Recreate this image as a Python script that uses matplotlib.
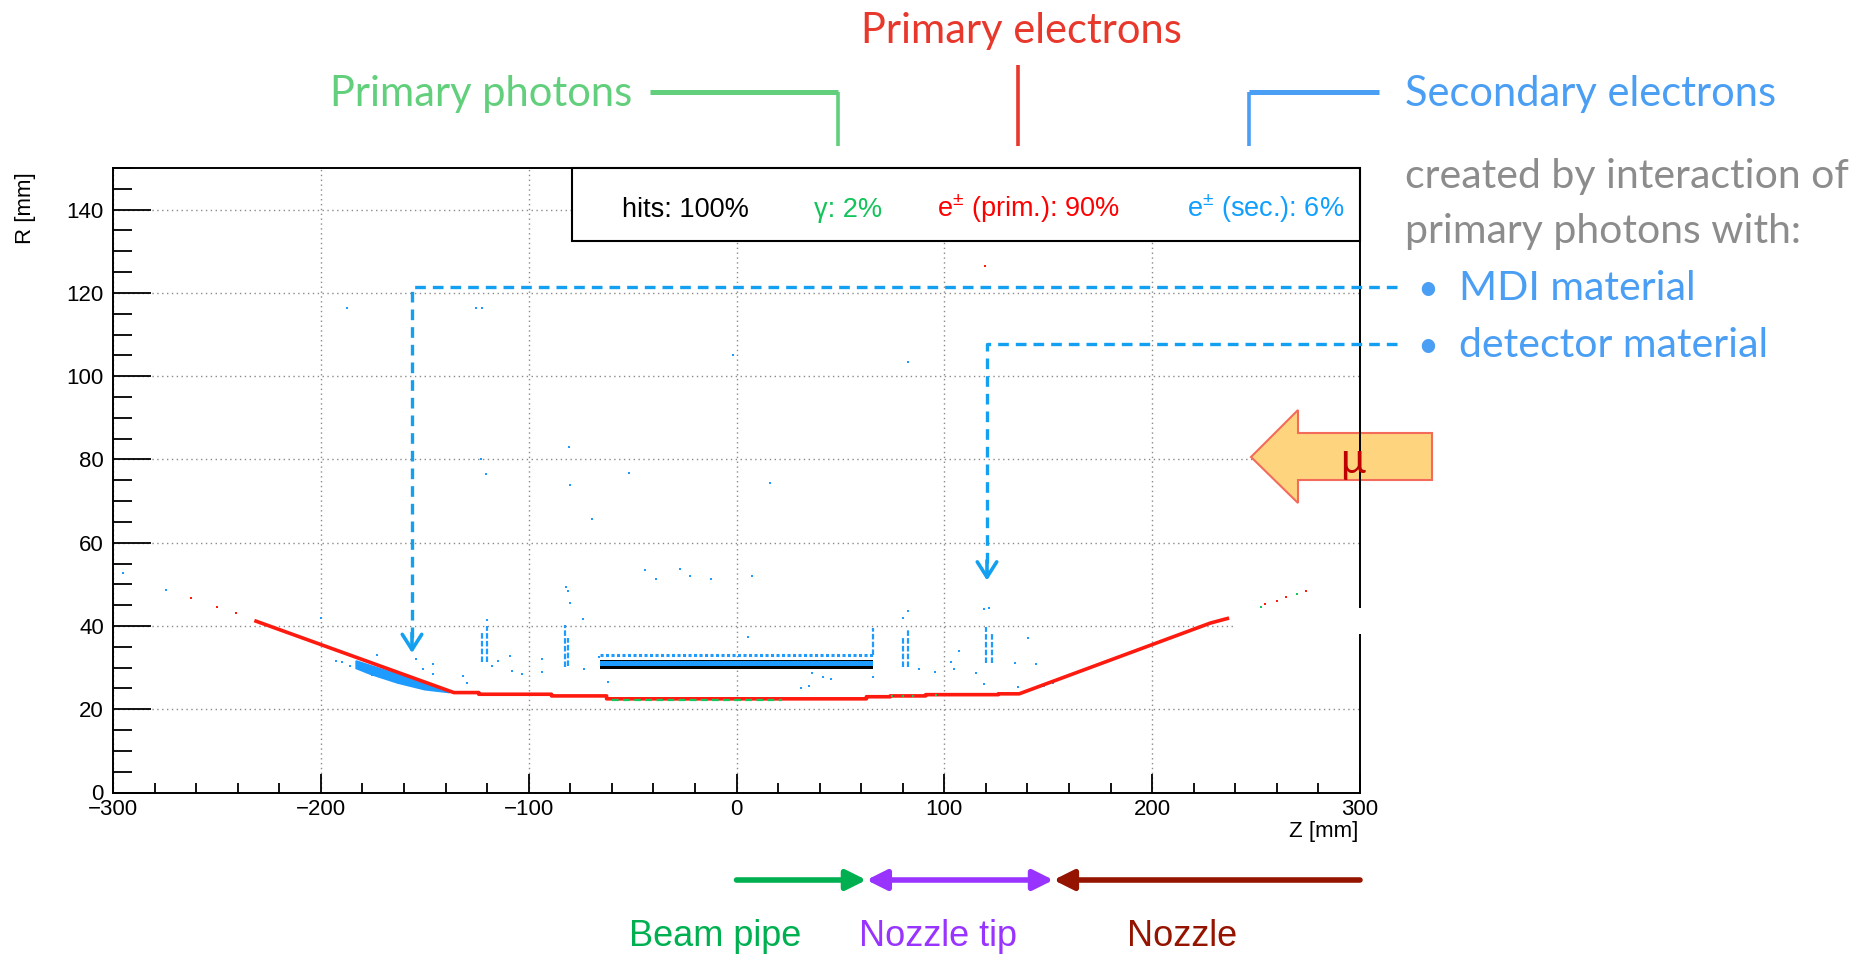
import matplotlib
matplotlib.use("Agg")
import matplotlib.pyplot as plt
from matplotlib.patches import Rectangle, Polygon
from matplotlib.ticker import MultipleLocator

plt.rcParams["mathtext.fontset"] = "custom"
plt.rcParams["mathtext.rm"] = "Liberation Sans"
plt.rcParams["mathtext.it"] = "Liberation Sans"

# ----------------------------
# Data
# ----------------------------
# primary e+- hits trace the MDI / nozzle surface (z, R in mm)
trace_z = [-232, -136, -124, -124, -89, -89, -62.5, -62.5, 62.5, 62.5, 74, 74, 91, 91, 126, 126, 136, 228, 237]
trace_R = [41.3, 24.0, 24.0, 23.6, 23.6, 23.2, 23.2, 22.5, 22.5, 23.0, 23.0, 23.2, 23.2, 23.5, 23.5, 23.7, 23.7, 40.7, 41.9]

# isolated primary e+- hits
red_z = [-262.6, -250.0, -241.0, 244.0, 254.4, 260.3, 264.4, 273.8, 119.4]
red_R = [46.7, 44.6, 43.0, 43.2, 45.2, 46.1, 47.0, 48.5, 126.5]

# primary photon hits
green_seg_z = [-60, 22]
green_seg_R = [22.2, 22.2]
green_z = [75, 80, 85, 96, 252.4, 269.9]
green_R = [23.1, 23.1, 23.1, 23.4, 44.5, 47.7]

# secondary e+- hits, isolated
blue_z = [-295.3, -274.7, -187.5, -125.5, -122.6, -1.7, 82.6, -120.4, -122.7, -80.8,
          -80.2, -51.5, -69.3, 16.1, -44.0, -27.0, -38.6, -22.5, -12.4, 7.4,
          -81.3, -199.7, -192.7, -190.0, -186.0, -177.0, -175.4, -173.0, -154.0, -151.0,
          -146.0, -146.0, -131.5, -129.8, -117.8, -114.9, -109.0, -107.9, -103.4, -93.7,
          -93.7, -73.7, -73.4, -66.0, -61.7, 5.7, 36.2, 41.8, 45.3, 35.0,
          30.9, 65.8, 87.7, 95.5, 103.0, 104.8, 107.2, 115.3, 119.0, 134.2,
          140.1, 144.1, 135.3, 148.0, 152.2, 80.0, 82.7, 119.3, 121.3, -120.2,
          -82.0, -80.0]
blue_R = [52.7, 48.6, 116.4, 116.4, 116.4, 105.0, 103.3, 76.4, 80.0, 83.0,
          73.8, 76.7, 65.8, 74.4, 53.5, 53.8, 51.3, 52.0, 51.4, 52.0,
          48.3, 41.8, 31.6, 31.4, 30.4, 28.8, 28.2, 33.0, 32.0, 29.6,
          30.9, 28.5, 28.0, 26.4, 30.4, 31.6, 32.8, 29.2, 28.4, 32.0,
          29.0, 41.7, 29.6, 32.6, 26.5, 37.3, 28.8, 27.8, 27.2, 25.6,
          25.2, 27.8, 29.7, 29.0, 31.3, 29.6, 34.0, 28.8, 26.0, 31.0,
          37.2, 30.9, 25.3, 25.6, 26.4, 41.9, 43.6, 44.0, 44.2, 41.5,
          49.3, 45.5]

# secondary e+- streaks (vertical columns of hits)
streak_z = [-122.3, -120.2, -82.5, -81.3, 65.6, 80.0, 82.7, 120.0, 122.8]
streak_lo = [31.3, 31.3, 30.1, 30.5, 33.0, 30.1, 30.1, 31.0, 31.0]
streak_hi = [38.3, 40.0, 40.2, 37.0, 39.4, 37.3, 39.0, 39.8, 38.5]

# dense secondary cluster under the left nozzle cone
cluster_z = [-183, -162, -140, -138, -150, -163, -176, -183]
cluster_R = [31.6, 28.2, 24.5, 24.0, 24.7, 26.3, 28.4, 29.8]

# vertex barrel layer
barrel_z = [-65.7, 65.8]
barrel_lo = [29.6, 29.6]
barrel_hi = [31.8, 31.8]
barrel_in_lo = [30.4, 30.4]
barrel_in_hi = [31.6, 31.6]
barrel_top_R = [33.0, 33.0]

# share of hits
hit_share = {"hits": 100, "gamma": 2, "prim": 90, "sec": 6}

# regions along z
region_names = ["Beam pipe", "Nozzle tip", "Nozzle"]
region_edges = [0, 62.5, 152.5, 300]

# ----------------------------
# Style
# ----------------------------
RED = "#FF1A10"
BLUE = "#1E9BFF"
GREEN = "#12C85A"
DASH_BLUE = "#13A0F0"
ANN_RED = "#E8382C"
ANN_GREEN = "#62CF7C"
ANN_BLUE = "#4A9EF3"
GREY = "#8C8C8C"
ROOT_FONT = "Liberation Sans"
ANN_FONT = "Lato"

W, H = 1869, 956
fig = plt.figure(figsize=(W / 100, H / 100), dpi=100)


def fx(px):
    return px / W


def fy(py):
    return 1 - py / H


ax = fig.add_axes([fx(113), fy(792.5), (1360 - 113) / W, (792.5 - 168) / H])
ax.set_xlim(-300, 300)
ax.set_ylim(0, 150)
ax.set_axisbelow(True)

ax.xaxis.set_major_locator(MultipleLocator(100))
ax.xaxis.set_minor_locator(MultipleLocator(20))
ax.yaxis.set_major_locator(MultipleLocator(20))
ax.yaxis.set_minor_locator(MultipleLocator(5))
ax.tick_params(axis="y", which="major", direction="in", length=27, width=1.3, pad=6.5)
ax.tick_params(axis="y", which="minor", direction="in", length=13.5, width=1.3)
ax.tick_params(axis="x", which="major", direction="in", length=14, width=1.3, pad=5)
ax.tick_params(axis="x", which="minor", direction="in", length=7, width=1.3)
ax.tick_params(top=False, right=False, which="both")
for lab in ax.get_xticklabels() + ax.get_yticklabels():
    lab.set_fontfamily(ROOT_FONT)
    lab.set_fontsize(16)
ax.grid(which="major", ls=(0, (1, 2.5)), color="#8a8a8a", lw=1)
for sp in ax.spines.values():
    sp.set_linewidth(1.4)

fig.text(fx(25), fy(172), "R [mm]", rotation=90, ha="center", va="top",
         fontsize=16, family=ROOT_FONT)
fig.text(fx(1358), fy(821), "Z [mm]", ha="right", va="top",
         fontsize=16, family=ROOT_FONT)

# ----------------------------
# Hits
# ----------------------------
ax.fill(cluster_z, cluster_R, color=BLUE, lw=1.2, zorder=2)
ax.fill_between(barrel_z, barrel_lo, barrel_hi, color="black", lw=0, zorder=2)
ax.fill_between(barrel_z, barrel_in_lo, barrel_in_hi, color=BLUE, lw=0, zorder=2.1)
ax.plot(barrel_z, barrel_top_R, color=BLUE, lw=2.2, ls=(0, (1, 0.8)), zorder=2.1)
ax.vlines(streak_z, streak_lo, streak_hi, color=BLUE, lw=1.6, ls=(0, (2.5, 1)), zorder=2)
ax.scatter(blue_z, blue_R, s=3, marker="s", color=BLUE, lw=0, zorder=2.2)

ax.plot(trace_z, trace_R, color=RED, lw=2.6, solid_capstyle="butt", zorder=2.3)
ax.scatter(red_z, red_R, s=3.5, marker="s", color=RED, lw=0, zorder=2.3)
ax.plot(green_seg_z, green_seg_R, color=GREEN, lw=1.6, ls=(0, (3, 2)), zorder=2.4)
ax.scatter(green_z, green_R, s=3.5, marker="s", color=GREEN, lw=0, zorder=2.4)

# white patch hiding the frame near R=40 on the right
ax.add_patch(Rectangle((fx(1236), fy(634)), fx(1368) - fx(1236), fy(608) - fy(634),
                       transform=fig.transFigure, facecolor="white", edgecolor="none",
                       clip_on=False, zorder=3))

# ----------------------------
# Stats box
# ----------------------------
ax.add_patch(Rectangle((fx(571.5), fy(240.7)), fx(1360) - fx(571.5), fy(168) - fy(240.7),
                       transform=fig.transFigure, facecolor="white", edgecolor="black",
                       lw=1.5, clip_on=False, zorder=4))
box_y = fy(217)
fig.text(fx(622), box_y, f"hits: {hit_share['hits']}%", fontsize=19.5, family=ROOT_FONT,
         color="black", va="baseline", zorder=5)
fig.text(fx(814), box_y, f"\u03b3: {hit_share['gamma']}%", fontsize=19.5, family=ROOT_FONT,
         color="#12C45A", va="baseline", zorder=5)
fig.text(fx(937), box_y, f"e$^{{\\pm}}$ (prim.): {hit_share['prim']}%", fontsize=19.5,
         family=ROOT_FONT, color="#FF0000", va="baseline", zorder=5)
fig.text(fx(1187), box_y, f"e$^{{\\pm}}$ (sec.): {hit_share['sec']}%", fontsize=19.5,
         family=ROOT_FONT, color="#0FA0FF", va="baseline", zorder=5)

# ----------------------------
# Annotations around the plot
# ----------------------------
fig.text(fx(1021), fy(43), "Primary electrons", color=ANN_RED, fontsize=30,
         family=ANN_FONT, ha="center", va="baseline")
fig.text(fx(330), fy(106), "Primary photons", color=ANN_GREEN, fontsize=30,
         family=ANN_FONT, ha="left", va="baseline")
fig.text(fx(1405), fy(106), "Secondary electrons", color=ANN_BLUE, fontsize=30,
         family=ANN_FONT, ha="left", va="baseline")
fig.text(fx(1405), fy(188), "created by interaction of", color=GREY, fontsize=29.5,
         family=ANN_FONT, ha="left", va="baseline")
fig.text(fx(1405), fy(243), "primary photons with:", color=GREY, fontsize=29.5,
         family=ANN_FONT, ha="left", va="baseline")
for yb, txt in [(300, "MDI material"), (357, "detector material")]:
    fig.text(fx(1428), fy(yb), "\u2022", color=ANN_BLUE, fontsize=26,
             family=ANN_FONT, ha="center", va="baseline")
    fig.text(fx(1459), fy(yb), txt, color=ANN_BLUE, fontsize=29.5,
             family=ANN_FONT, ha="left", va="baseline")

# pointer lines at the top
fig.add_artist(plt.Line2D([fx(650), fx(838)], [fy(92), fy(92)], color=ANN_GREEN, lw=3.6,
                          solid_capstyle="butt"))
fig.add_artist(plt.Line2D([fx(838), fx(838)], [fy(92), fy(146)], color=ANN_GREEN, lw=2.6,
                          solid_capstyle="butt"))
fig.add_artist(plt.Line2D([fx(1018), fx(1018)], [fy(65), fy(146)], color=ANN_RED, lw=2.6,
                          solid_capstyle="butt"))
fig.add_artist(plt.Line2D([fx(1379), fx(1249)], [fy(92), fy(92)], color=ANN_BLUE, lw=3.6,
                          solid_capstyle="butt"))
fig.add_artist(plt.Line2D([fx(1249), fx(1249)], [fy(92), fy(146)], color=ANN_BLUE, lw=2.6,
                          solid_capstyle="butt"))

# dashed pointers from the bullet list into the plot
for xv, yh, ytip in [(412, 287, 653), (987, 344.5, 580.5)]:
    ax.plot([fx(1397), fx(xv), fx(xv)], [fy(yh), fy(yh), fy(ytip) + 0.004],
            transform=fig.transFigure, color=DASH_BLUE, lw=2.4, ls=(0, (3.2, 2.1)),
            clip_on=False, zorder=3.5)
    ax.annotate("", xy=(xv, H - ytip), xytext=(xv, H - ytip + 20),
                xycoords="figure pixels", textcoords="figure pixels",
                arrowprops=dict(arrowstyle="->,head_length=0.55,head_width=0.35",
                                color=DASH_BLUE, lw=2.6, mutation_scale=20,
                                shrinkA=0, shrinkB=0),
                annotation_clip=False, zorder=3.5)

# muon direction arrow
mu_arrow = [(1251, 457), (1298, 410), (1298, 433), (1432, 433),
            (1432, 480), (1298, 480), (1298, 503)]
ax.add_patch(Polygon([(fx(x), fy(y)) for x, y in mu_arrow], closed=True,
                     transform=fig.transFigure, facecolor="#FFD47F",
                     edgecolor="#F26B5B", lw=1.5, clip_on=False, zorder=2))
fig.text(fx(1353), fy(461), "\u03bc", color="#BE0000", fontsize=30, family=ANN_FONT,
         ha="center", va="center")

# ----------------------------
# Regions along z
# ----------------------------
reg_colors = ["#00B050", "#9933FF", "#951400"]
arrow_y = H - 880
common = dict(lw=4, mutation_scale=20, shrinkA=0, shrinkB=0)
ax.annotate("", xy=(region_edges[1], arrow_y), xytext=(region_edges[0], arrow_y),
            xycoords=("data", "figure pixels"), textcoords=("data", "figure pixels"),
            arrowprops=dict(arrowstyle="-|>,head_length=0.6,head_width=0.3",
                            color=reg_colors[0], **common), annotation_clip=False)
ax.annotate("", xy=(region_edges[2], arrow_y), xytext=(region_edges[1], arrow_y),
            xycoords=("data", "figure pixels"), textcoords=("data", "figure pixels"),
            arrowprops=dict(arrowstyle="<|-|>,head_length=0.6,head_width=0.3",
                            color=reg_colors[1], **common), annotation_clip=False)
ax.annotate("", xy=(region_edges[2], arrow_y), xytext=(region_edges[3], arrow_y),
            xycoords=("data", "figure pixels"), textcoords=("data", "figure pixels"),
            arrowprops=dict(arrowstyle="-|>,head_length=0.6,head_width=0.3",
                            color=reg_colors[2], **common), annotation_clip=False)
for name, xc, col in zip(region_names, [715, 938, 1182], reg_colors):
    fig.text(fx(xc), fy(946), name, color=col, fontsize=26, family=ROOT_FONT,
             ha="center", va="baseline")

fig.savefig("out.png", dpi=100)
